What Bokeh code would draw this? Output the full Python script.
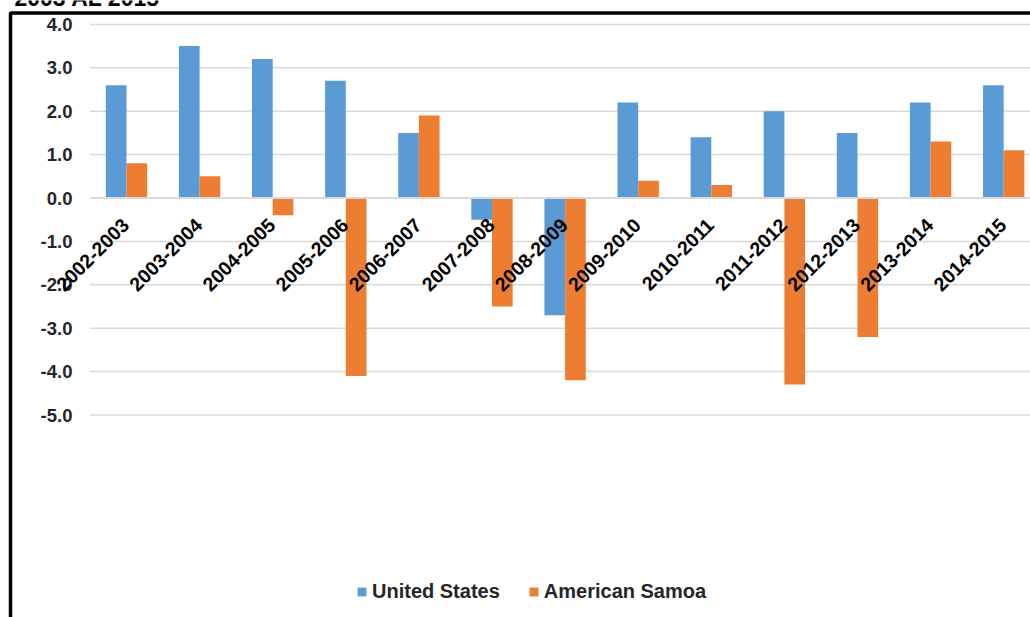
import numpy as np
from bokeh.plotting import figure
from bokeh.models import ColumnDataSource, Legend, LegendItem, Range1d
from bokeh.core.properties import value
from bokeh.embed import file_html
from bokeh.resources import INLINE

# ---- data ----
categories = ["2002-2003", "2003-2004", "2004-2005", "2005-2006", "2006-2007",
              "2007-2008", "2008-2009", "2009-2010", "2010-2011", "2011-2012",
              "2012-2013", "2013-2014", "2014-2015"]
united_states = [2.6, 3.5, 3.2, 2.7, 1.5, -0.5, -2.7, 2.2, 1.4, 2.0, 1.5, 2.2, 2.6]
american_samoa = [0.8, 0.5, -0.4, -4.1, 1.9, -2.5, -4.2, 0.4, 0.3, -4.3, -3.2, 1.3, 1.1]
y_ticks = [4.0, 3.0, 2.0, 1.0, 0.0, -1.0, -2.0, -3.0, -4.0, -5.0]
y_tick_labels = ["4.0", "3.0", "2.0", "1.0", "0.0", "-1.0", "-2.0", "-3.0", "-4.0", "-5.0"]
series_names = ["United States", "American Samoa"]
title_text = "2003 AL 2015"

# ---- layout constants (pixels) ----
W, H = 1030, 617
X0_PX = 126.0     # centre of the first category
STEP_PX = 73.1    # category width
ZERO_PX = 197.5   # y pixel of value 0
UNIT_PX = 43.4    # pixels per unit

def dx(px):
    return (px - X0_PX) / STEP_PX

def dy(py):
    return (ZERO_PX - py) / UNIT_PX

BLUE = "#5B9BD5"
ORANGE = "#ED7D31"
GRID = "#D9D9D9"
FONT_NAME = "Liberation Sans"
FONT = value(FONT_NAME)
BAR_W = 0.283

p = figure(width=W, height=H, output_backend="svg", toolbar_location=None,
           x_range=Range1d(dx(0), dx(W)), y_range=Range1d(dy(H), dy(0)),
           x_axis_location=None, y_axis_location=None,
           min_border=0, min_border_left=0, min_border_right=0,
           min_border_top=0, min_border_bottom=0)
p.grid.visible = False
p.outline_line_color = None
p.background_fill_color = "white"
p.border_fill_color = "white"

idx = np.arange(len(categories))

# gridlines (non-zero) below bars
nz = [t for t in y_ticks if t != 0]
p.segment(x0=[-0.5] * len(nz), y0=nz, x1=[dx(W) + 1] * len(nz), y1=nz,
          line_color=GRID, line_width=1.5)

src = ColumnDataSource(dict(x_us=idx - BAR_W / 2, x_as=idx + BAR_W / 2,
                            us=united_states, am=american_samoa))
r_us = p.vbar(x="x_us", top="us", bottom=0, width=BAR_W, source=src,
              fill_color=BLUE, line_color=None)
r_as = p.vbar(x="x_as", top="am", bottom=0, width=BAR_W, source=src,
              fill_color=ORANGE, line_color=None)

# zero line above bars
p.segment(x0=[-0.5], y0=[0.0], x1=[dx(W) + 1], y1=[0.0],
          line_color=GRID, line_width=2)

# y tick labels
p.text(x=[dx(72)] * len(y_ticks), y=y_ticks, text=y_tick_labels,
       text_align="right", text_baseline="middle",
       text_font=FONT, text_font_style="bold", text_font_size="18.5px",
       text_color="#262626")

# category labels rotated
p.text(x=idx + dx(X0_PX - 1), y=[dy(221)] * len(categories), text=categories,
       angle=np.pi / 4, text_align="right", text_baseline="middle",
       text_font=FONT, text_font_style="bold", text_font_size="19.5px",
       text_color="#000000")

# title (cut off at top, as in the source image)
p.text(x=[dx(14)], y=[dy(-3)], text=[title_text],
       text_align="left", text_baseline="alphabetic",
       text_font=FONT, text_font_style="bold", text_font_size="23px",
       text_color="#000000")

# chart-area border (left and top)
p.line(x=[dx(10), dx(10), dx(W + 5)], y=[dy(H + 5), dy(12.5), dy(12.5)],
       line_color="black", line_width=3.5)

legend = Legend(items=[LegendItem(label=series_names[0], renderers=[r_us]),
                       LegendItem(label=series_names[1], renderers=[r_as])],
                orientation="horizontal", location=(356, 14),
                glyph_width=11, glyph_height=11, label_standoff=5,
                spacing=28, padding=0, margin=0,
                label_text_font=FONT_NAME, label_text_font_style="bold",
                label_text_font_size="20px", label_text_color="#262626",
                border_line_color=None, background_fill_alpha=0)
p.add_layout(legend, "center")

open("out.html", "w").write(file_html(p, INLINE))
